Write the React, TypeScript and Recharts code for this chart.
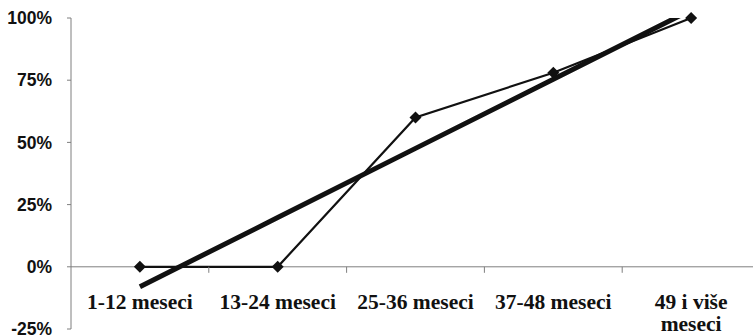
import React from "react";
import {
  ComposedChart,
  Line,
  XAxis,
  YAxis,
  ReferenceLine,
  ReferenceDot,
} from "recharts";

// Share of cases by time period (percent)
const categories = [
  "1-12 meseci",
  "13-24 meseci",
  "25-36 meseci",
  "37-48 meseci",
  "49 i više\nmeseci",
];
const shares = [0, 0, 60, 78, 100];
// Linear trend through the shares, per category
const trend = [-8, 19.8, 47.6, 75.4, 103.2];
const yTicks = [-25, 0, 25, 50, 75, 100];

// Each category occupies one unit on the x scale; points sit at its middle
const positions = categories.map((_, i) => i + 0.5);
// Category boundaries on the zero line
const boundaries = [1, 2, 3, 4];

const data = categories.map((cat, i) => ({
  cat,
  pos: positions[i],
  share: shares[i],
  trend: trend[i],
}));

const AXIS_GRAY = "#7f7f7f";
const INK = "#111111";

const Diamond = (props: any) => {
  const { cx, cy, index } = props;
  if (cx == null || cy == null) return null;
  const r = 6;
  return (
    <polygon
      key={`d-${index}`}
      points={`${cx},${cy - r} ${cx + r},${cy} ${cx},${cy + r} ${cx - r},${cy}`}
      fill={INK}
    />
  );
};

const CategoryTick = (props: any) => {
  const { x, y, payload } = props;
  const label = categories[Math.floor(payload.value)] ?? "";
  const lines = label.split("\n");
  return (
    <text
      x={x}
      y={y}
      textAnchor="middle"
      fill={INK}
      fontFamily="'Liberation Serif', 'Times New Roman', serif"
      fontWeight="bold"
      fontSize={21.5}
    >
      {lines.map((l, i) => (
        <tspan key={i} x={x} dy={i === 0 ? -20 : 22}>
          {l}
        </tspan>
      ))}
    </text>
  );
};

const BoundaryTick = (props: any) => {
  const { cx, cy } = props;
  if (cx == null || cy == null) return null;
  return <line x1={cx} y1={cy} x2={cx} y2={cy + 6} stroke={AXIS_GRAY} strokeWidth={1} />;
};

export default function App() {
  return (
    <div
      style={{
        position: "absolute",
        left: 0,
        top: 0,
        width: 753,
        height: 336,
        overflow: "hidden",
        background: "#fff",
      }}
    >
      <ComposedChart
        width={760}
        height={336}
        data={data}
        margin={{ top: 18, right: 0, bottom: 0, left: 0 }}
      >
        <XAxis
          dataKey="pos"
          type="number"
          domain={[0, categories.length]}
          ticks={positions}
          interval={0}
          axisLine={false}
          tickLine={false}
          tickSize={0}
          tickMargin={0}
          height={7}
          tick={<CategoryTick />}
        />
        <YAxis
          domain={[-25, 100]}
          ticks={yTicks}
          interval={0}
          width={71}
          tickFormatter={(v: number) => `${v}%`}
          axisLine={{ stroke: AXIS_GRAY, strokeWidth: 1 }}
          tickLine={{ stroke: AXIS_GRAY, strokeWidth: 1 }}
          tickSize={4}
          tickMargin={15}
          tick={{
            fill: INK,
            fontFamily: "'Liberation Sans', Arial, sans-serif",
            fontWeight: "bold",
            fontSize: 17.5,
          }}
        />
        <YAxis yAxisId="trend" domain={[-25, 100]} allowDataOverflow hide />
        <ReferenceLine y={0} stroke={AXIS_GRAY} strokeWidth={1} />
        {boundaries.map((b) => (
          <ReferenceDot key={b} x={b} y={0} shape={<BoundaryTick />} />
        ))}
        <Line
          yAxisId="trend"
          dataKey="trend"
          stroke={INK}
          strokeWidth={5}
          dot={false}
          activeDot={false}
          isAnimationActive={false}
        />
        <Line
          dataKey="share"
          stroke={INK}
          strokeWidth={2.2}
          dot={<Diamond />}
          activeDot={false}
          isAnimationActive={false}
        />
      </ComposedChart>
    </div>
  );
}
